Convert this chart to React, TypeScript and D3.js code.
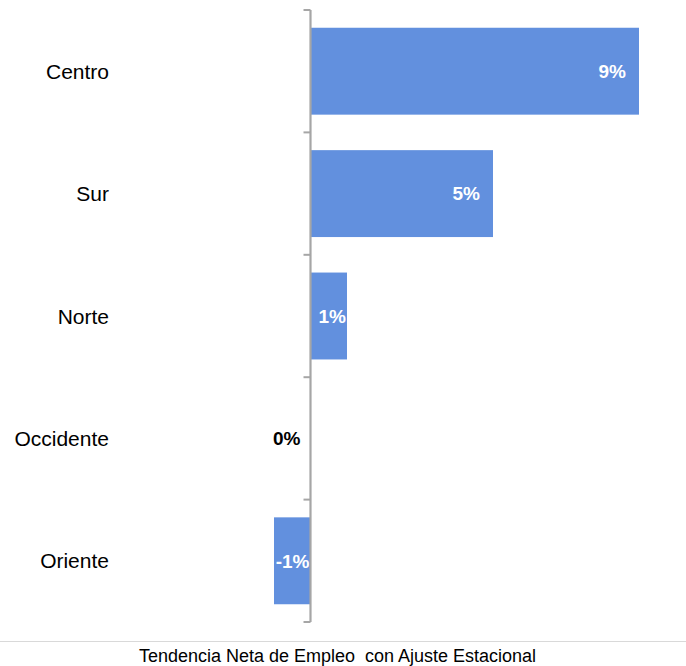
import React from "react";
import * as d3 from "d3";

const categories = ["Centro", "Sur", "Norte", "Occidente", "Oriente"];
const values = [9, 5, 1, 0, -1];
const valueLabels = ["9%", "5%", "1%", "0%", "-1%"];
const xDomain = [-1, 9];
const title = "Tendencia Neta de Empleo  con Ajuste Estacional";

const W = 686;
const H = 666;
const FONT = "'Liberation Sans', Arial, sans-serif";
const BAR = "#6290de";
const AXIS = "#a6a6a6";

export default function App() {
  const y = d3
    .scaleBand<string>()
    .domain(categories)
    .range([10, 622])
    .paddingInner(0.29)
    .paddingOuter(0.145);
  const x = d3.scaleLinear().domain(xDomain).range([274, 639]);
  const x0 = x(0);
  const step = y.step();
  const bounds = d3.range(categories.length + 1).map((i) => 10 + i * step);

  return (
    <svg
      width={W}
      height={H}
      style={{ position: "absolute", left: 0, top: 0, background: "#fff" }}
    >
      {categories.map((c, i) => {
        const v = values[i];
        const yb = y(c)!;
        const bh = y.bandwidth();
        const xa = x(Math.min(0, v));
        const xb = x(Math.max(0, v));
        const w = xb - xa;
        const cy = yb + bh / 2;
        const labelW = valueLabels[i].length * 13;
        let lx: number;
        let anchor: "start" | "middle" | "end" = "end";
        let fill = "#fff";
        if (v === 0) {
          lx = x0 - 10;
          fill = "#000";
        } else if (w > labelW + 26) {
          lx = v > 0 ? xb - 13 : xa + 13;
          anchor = v > 0 ? "end" : "start";
        } else {
          lx = xb - 1;
          anchor = "end";
        }
        return (
          <g key={c}>
            {v !== 0 && <rect x={xa} y={yb} width={w} height={bh} fill={BAR} />}
            <text
              x={109}
              y={y(c)! + bh / 2}
              dy="0.36em"
              textAnchor="end"
              fontFamily={FONT}
              fontSize={21}
              fill="#000"
            >
              {c}
            </text>
            <text
              x={lx}
              y={cy}
              dy="0.36em"
              textAnchor={anchor}
              fontFamily={FONT}
              fontSize={19}
              fontWeight="bold"
              fill={fill}
            >
              {valueLabels[i]}
            </text>
          </g>
        );
      })}
      <line x1={x0} x2={x0} y1={10} y2={622} stroke={AXIS} strokeWidth={2.2} />
      {bounds.map((b, i) => (
        <line key={i} x1={x0 - 7} x2={x0} y1={b} y2={b} stroke={AXIS} strokeWidth={2} />
      ))}
      <line x1={0} x2={W} y1={641.5} y2={641.5} stroke="#d9d9d9" strokeWidth={1} />
      <text
        x={337.5}
        y={662}
        textAnchor="middle"
        fontFamily={FONT}
        fontSize={18}
        fill="#000"
        style={{ whiteSpace: "pre" }}
        xmlSpace="preserve"
      >
        {title}
      </text>
    </svg>
  );
}
